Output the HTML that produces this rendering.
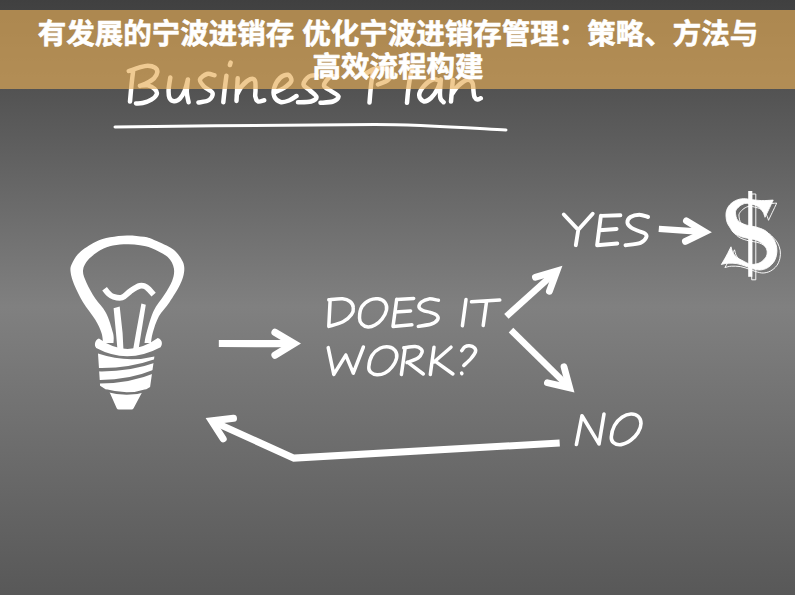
<!DOCTYPE html>
<html><head><meta charset="utf-8"><title>Business Plan</title>
<style>
html,body{margin:0;padding:0;background:#555;}
body{width:795px;height:595px;overflow:hidden;position:relative;font-family:"Liberation Sans",sans-serif;}
#bg{position:absolute;left:0;top:0;width:795px;height:595px;
background:linear-gradient(to bottom,#404040 0px,#808080 307px,#585858 595px);}
#art{position:absolute;left:0;top:0;}
#banner{position:absolute;left:0;top:10px;width:795px;height:78.7px;background:rgba(230,174,88,0.65);}
#ttl{position:absolute;left:0;top:0;}
#dollar{position:absolute;}
</style></head><body>
<div id="bg"></div>
<svg id="art" width="795" height="595" viewBox="0 0 795 595">
<path d="M133.2,70.5C132.9,72.9 132,79.8 131.5,85C131,90.2 130.2,98.8 130,101.5M128.8,71C130.5,70.4 135.8,68.5 138.9,67.6C142.1,66.7 145,65.7 147.7,65.7C150.4,65.7 153.4,66.5 155,67.6C156.6,68.7 157.5,70.5 157.3,72.3C157.1,74.1 155.9,76.4 154,78.3C152.1,80.2 148.3,82.2 146,83.5C143.7,84.8 141,85.4 140,85.8M140,85.8C141.3,85.7 145.3,84.9 147.7,85.4C150.1,85.9 153,87.4 154.5,88.8C156,90.2 157.3,92.2 156.8,94C156.3,95.8 153.8,98.2 151.4,99.7C149,101.2 145.2,102.4 142.6,103C140,103.6 137.1,103.3 136,103.4M170.3,77.6C170,79.7 168.7,86.6 168.6,90C168.5,93.4 168.6,96.1 169.5,98C170.4,99.9 172.2,101.1 174,101.2C175.8,101.3 178.2,100.4 180,98.5C181.8,96.6 183.7,93.2 185,90C186.3,86.8 187.4,81.2 187.9,79.5M187.9,79.5C187.7,81.6 186.7,88.2 186.8,92C186.9,95.8 188.3,100.5 188.6,102.2M214.5,75.2C213.2,75 209.4,73.3 207,74C204.6,74.7 200.5,77.4 200,79.5C199.5,81.6 201.9,84.2 204,86.5C206.1,88.8 211.7,90.8 212.5,93C213.3,95.2 211.3,98.4 209,100C206.7,101.6 200.2,102.1 198.5,102.5M230.6,62.6L229.9,65M226.4,75.8C226.1,78.2 225.1,85.6 224.6,90C224.1,94.4 223.5,100.2 223.3,102.2M237.7,78.3L236.5,100.9M236.8,95C237.7,93.5 239.8,88.6 242,86C244.2,83.4 248.1,80.1 250.3,79.2C252.5,78.3 254.1,79 255,80.8C255.9,82.6 255.4,87.4 255.5,90C255.6,92.6 254.9,94.6 255.3,96.5C255.7,98.4 256.5,100.9 258,101.5C259.5,102.1 263.2,100.5 264.2,100.3M275.5,92C276.9,91.3 281.4,89.8 284,88C286.6,86.2 290.6,83.2 291.3,81C292,78.8 289.9,75.3 288,74.8C286.1,74.3 282.3,75.8 280,78C277.7,80.2 275.1,84.8 274.2,88C273.3,91.2 273.4,94.7 274.5,97C275.6,99.3 278.1,101.4 280.5,102C282.9,102.6 286.3,101.5 289,100.5C291.7,99.5 295.2,96.8 296.5,96M316.5,75.3C315.2,75.5 311.2,75 309,76.5C306.8,78 303.3,82.2 303.5,84.5C303.7,86.8 307.8,88.4 310,90.5C312.2,92.6 316.3,95.2 316.5,97C316.7,98.8 314.1,100.6 311,101.5C307.9,102.4 300.2,102.2 298,102.3M337,76.5C335.8,76.6 332.2,75.5 330,77C327.8,78.5 323.8,83.2 324,85.5C324.2,87.8 328.6,89.2 331,91C333.4,92.8 338.2,94.8 338.5,96.5C338.8,98.2 336,100.5 333,101.5C330,102.5 322.6,102.6 320.5,102.8M373.5,70C373.1,72 372.1,76.6 371.4,82C370.7,87.4 369.8,99.1 369.5,102.5M366,73.5C367.5,72.7 371.7,69.5 375,68.8C378.3,68 383.3,68.1 386,69C388.7,69.9 390.7,72.2 391,74C391.3,75.8 390.2,78.2 388,80C385.8,81.8 379.7,83.8 378,84.5M413,66C412.5,68 410.8,73.7 410,78C409.2,82.3 408.5,87.9 408,92C407.5,96.1 407.2,101 407,102.8M440.5,81C439.2,80.8 435.8,78.7 433,79.5C430.2,80.3 426.3,83.4 424,86C421.7,88.6 419.3,92.5 419.2,95C419.1,97.5 421.5,100.8 423.5,101.3C425.5,101.8 428.6,100.2 431,98C433.4,95.8 436.4,91.1 438,88C439.6,84.9 440.3,80.9 440.8,79.5M440.8,79.5C440.7,81.6 440.1,88.8 440,92C439.9,95.2 439.9,96.8 440.5,98.5C441.1,100.2 443.1,101.6 443.6,102.2M452.8,80L451,101.5M451.5,95C452.6,93.5 455.3,88.5 458,86C460.7,83.5 465.1,80.3 467.5,79.8C469.9,79.3 471.5,81.1 472.5,83C473.5,84.9 473.2,88.7 473.5,91C473.8,93.3 473.8,95.6 474.5,97C475.2,98.4 476.4,99.3 477.5,99.5C478.6,99.7 480.2,98.4 480.8,98.2" fill="none" stroke="#fff" stroke-width="4.5" stroke-linecap="round" stroke-linejoin="round"/>
<path d="M115,127 C200,126 300,124.6 375,124.4 C420,124.4 470,128 506,130" fill="none" stroke="#fff" stroke-width="3" stroke-linecap="round"/>
<path d="M330.1,300.7L328.8,326.3M328.8,299.8C331.1,299.6 339.1,298.5 342.6,298.8C346.1,299.1 348.2,300.1 350,301.5C351.8,302.9 353.1,305.3 353.3,307.5C353.6,309.7 353.2,312.1 351.5,314.5C349.8,316.9 346.8,319.8 343,321.8C339.2,323.8 331.2,325.6 328.8,326.4M359.5,318C359.5,315.1 360.2,309.5 362,306.5C363.8,303.5 367.3,301.3 370,300C372.7,298.7 375.5,298.4 378,298.8C380.5,299.2 383.6,300.6 385,302.5C386.4,304.4 387,307.2 386.5,310C386,312.8 383.9,316.5 382,319C380.1,321.5 377.3,323.7 375,325C372.7,326.3 370.2,327.2 368,327C365.8,326.8 363.2,325.5 361.8,324C360.4,322.5 359.5,320.9 359.5,318ZM396.7,299.3C396.4,301.4 395.6,307.5 395,312C394.4,316.5 393.3,323.9 393,326.3M396.7,299.5L413.7,298.4M395.5,312L410.6,310.9M393,326.4L411.9,324.8M438.4,300.3C436.8,300.1 431.8,298.6 429,298.9C426.2,299.2 423.2,300.6 421.5,302C419.8,303.4 418.8,305.6 419,307C419.2,308.4 421.1,309.6 423,310.5C424.9,311.4 427.9,311.6 430.2,312.3C432.4,313.1 435.2,313.8 436.5,315C437.8,316.2 438.6,318 437.7,319.5C436.8,321 434.6,322.9 431.4,324C428.2,325.1 420.5,326 418.3,326.4M466,299.5L462.4,325.8M471.5,301.8L499.8,300M486.6,301.2L483.2,325.6" fill="none" stroke="#fff" stroke-width="3.5" stroke-linecap="round" stroke-linejoin="round"/>
<path d="M328.2,347.6L333.8,374.4M333.8,374.4L345.8,355.1M345.8,355.1L353.3,373.2M353.3,373.2L363.4,347M368.8,367C369,364.2 370.1,358.6 372,355.5C373.9,352.4 377.2,349.7 380,348.3C382.8,346.9 386.4,346.5 389,346.9C391.6,347.3 394,348.9 395.3,350.8C396.6,352.7 397.2,355.3 396.6,358C396.1,360.7 393.9,364.5 392,367C390.1,369.5 387.5,371.7 385,373C382.5,374.3 379.4,374.9 377,374.8C374.6,374.7 372.2,373.6 370.8,372.3C369.4,371 368.6,369.8 368.8,367ZM405.1,348.2L401.4,374.4M403.8,347.8C405.7,347.6 412.2,346.3 415.1,346.5C418,346.7 419.9,348 421,349C422.1,350 422.5,351 422,352.5C421.5,354 420.5,356.3 418,358C415.5,359.7 408.8,361.8 407,362.5M407.6,362.2L423.3,374M434,347.2L430.3,374.4M451,347.2L434,362M435.3,361.4L452.9,374M461.7,350.7C462.2,350.1 463.7,347.6 465,346.8C466.3,346 467.9,345.6 469.5,345.8C471.1,346 473.3,346.8 474.3,347.8C475.3,348.8 476.1,349.8 475.5,351.6C474.9,353.4 472.9,356.2 471,358.5C469.1,360.8 465,364.3 463.8,365.5M461.6,373L461.9,373.6" fill="none" stroke="#fff" stroke-width="3.5" stroke-linecap="round" stroke-linejoin="round"/>
<path d="M563.8,214.5L578.3,229.8M592.7,213.8L578.3,229.8M578.3,229.8L575.8,245.2M600.9,215.7L597.1,245.2M600.9,215.9L620.4,215.2M599.7,230.2L616.6,229M597.1,245.2L617.3,243.5M648.1,217C646.6,216.6 642.2,214.7 639.3,214.7C636.4,214.7 632.5,215.7 630.5,217C628.5,218.3 627.3,220.8 627.4,222.6C627.5,224.3 629.2,226.1 631,227.5C632.8,228.9 635.7,229.8 638,230.8C640.3,231.8 643.6,232.4 645,233.5C646.4,234.6 647,235.9 646.2,237.5C645.5,239.1 644,241.5 640.5,242.8C637,244.1 628,244.8 625.5,245.2" fill="none" stroke="#fff" stroke-width="3.9" stroke-linecap="round" stroke-linejoin="round"/>
<path d="M576.4,444.5L582,415.8M582,415.8L599,443.9M599,443.9L604,414M611.3,437C611.5,434.1 612.7,428.8 614.5,425.5C616.3,422.2 619.2,419.1 622,417.2C624.8,415.3 628.3,414.1 631,414C633.7,413.9 636.6,414.9 638.3,416.5C640,418.1 641,420.8 641,423.5C641,426.2 639.7,429.8 638,432.5C636.3,435.2 633.8,438 631,440C628.2,442 623.9,444.2 621,444.6C618.1,445 615.1,443.9 613.5,442.6C611.9,441.3 611.1,439.9 611.3,437Z" fill="none" stroke="#fff" stroke-width="3.6" stroke-linecap="round" stroke-linejoin="round"/>
<path d="M218.8,343.5L294,343.6" fill="none" stroke="#fff" stroke-width="7.2" stroke-linecap="butt" stroke-linejoin="miter"/>
<path d="M275,332.3L294,343.6L275,355.1" fill="none" stroke="#fff" stroke-width="7.2" stroke-linecap="round" stroke-linejoin="miter" stroke-miterlimit="10"/>
<path d="M658.8,228.9L704.8,232" fill="none" stroke="#fff" stroke-width="6.4" stroke-linecap="butt" stroke-linejoin="miter"/>
<path d="M686.4,220.8L704.8,232L685.4,241.4" fill="none" stroke="#fff" stroke-width="6.8" stroke-linecap="round" stroke-linejoin="miter" stroke-miterlimit="10"/>
<path d="M506.4,316.4L556.9,270.9" fill="none" stroke="#fff" stroke-width="6.5" stroke-linecap="butt" stroke-linejoin="miter"/>
<path d="M535.4,277.3L556.9,270.9L549.4,291.2" fill="none" stroke="#fff" stroke-width="6.8" stroke-linecap="round" stroke-linejoin="miter" stroke-miterlimit="10"/>
<path d="M511,330.1L569.7,387.8" fill="none" stroke="#fff" stroke-width="6.5" stroke-linecap="butt" stroke-linejoin="miter"/>
<path d="M564,366.8L569.7,387.8L547.4,382.7" fill="none" stroke="#fff" stroke-width="6.8" stroke-linecap="round" stroke-linejoin="miter" stroke-miterlimit="10"/>
<path d="M559.7,443L293.9,458.1L211.6,420.9" fill="none" stroke="#fff" stroke-width="7" stroke-linecap="butt" stroke-linejoin="miter"/>
<path d="M233.5,418.3L211.6,420.9L223.2,438.8" fill="none" stroke="#fff" stroke-width="7" stroke-linecap="round" stroke-linejoin="miter" stroke-miterlimit="10"/>
<g transform="translate(3.5,3)" fill="none" stroke="#fff" stroke-width="0.95"><path d="M773.2,200.1C771.2,200.2 764.9,200.7 761.4,200.6C757.9,200.5 755.3,200 752.3,199.7C749.3,199.4 746,198.5 743.2,198.7C740.4,198.8 737.8,199.5 735.5,200.6C733.2,201.7 731.1,203.3 729.6,205C728.1,206.7 727.2,208.7 726.6,210.5C726,212.3 725.9,214.1 726,216C726.1,217.9 726.4,220.2 727,222C727.6,223.8 728.3,225 729.6,226.9C730.9,228.8 732.3,231.9 734.6,233.6C736.9,235.3 739.6,236.2 743.2,237.3C746.8,238.4 752.7,238.8 756,240C759.3,241.2 761.4,242.8 763.2,244.5C765,246.2 766.4,248 766.9,250C767.4,252 767.3,254.3 766.4,256.3C765.5,258.3 763.1,260.5 761.4,261.8C759.7,263.1 757.9,263.6 756,264C754.1,264.4 752.1,264.7 750,264.2C747.9,263.7 745.4,262.1 743.2,261C741,259.9 738.7,258.8 737,257.5C735.3,256.2 734,254.8 733,253C732,251.2 731.3,247.8 731,246.8C730.2,248.3 727.9,253.1 726.3,256C724.7,258.9 722.2,263.1 721.4,264.5C722.5,264.3 725.2,263.3 727.8,263.2C730.4,263.1 733.9,263.1 736.9,263.6C739.9,264.1 743.4,265.5 746,266.3C748.6,267.1 750,268 752.3,268.6C754.6,269.2 757.2,270.1 759.6,270C762,269.9 764.6,269.3 766.9,268.1C769.2,266.9 771.6,264.8 773.2,262.7C774.8,260.6 775.8,258 776.4,255.4C777,252.8 777.1,249.9 776.7,247.3C776.3,244.7 775.1,242 774.1,240C773.1,238 772,237 770.5,235.4C769,233.8 767.4,231.9 765,230.5C762.6,229.1 759.2,227.9 756,227C752.8,226.1 749,226.1 746,225C743,223.9 739.5,222.5 737.8,220.5C736,218.5 735.7,215 735.5,213.2C735.3,211.4 735.6,210.9 736.4,209.6C737.2,208.3 738.9,206.6 740.5,205.5C742.1,204.4 744,203.5 746,203.3C748,203.1 750.6,204 752.3,204.4C754,204.8 754.8,204.9 756,205.5C757.2,206.1 758.4,206.7 759.6,207.8C760.8,208.9 762.3,210.7 763.2,212.3C764.1,213.9 764.7,216.5 765,217.3C765.6,216 767.3,212.5 768.7,209.6C770.1,206.7 772.5,201.7 773.2,200.1Z"/><path d="M748.2,191H752.3V276.8H748.2Z"/></g>
<path d="M773.2,200.1C771.2,200.2 764.9,200.7 761.4,200.6C757.9,200.5 755.3,200 752.3,199.7C749.3,199.4 746,198.5 743.2,198.7C740.4,198.8 737.8,199.5 735.5,200.6C733.2,201.7 731.1,203.3 729.6,205C728.1,206.7 727.2,208.7 726.6,210.5C726,212.3 725.9,214.1 726,216C726.1,217.9 726.4,220.2 727,222C727.6,223.8 728.3,225 729.6,226.9C730.9,228.8 732.3,231.9 734.6,233.6C736.9,235.3 739.6,236.2 743.2,237.3C746.8,238.4 752.7,238.8 756,240C759.3,241.2 761.4,242.8 763.2,244.5C765,246.2 766.4,248 766.9,250C767.4,252 767.3,254.3 766.4,256.3C765.5,258.3 763.1,260.5 761.4,261.8C759.7,263.1 757.9,263.6 756,264C754.1,264.4 752.1,264.7 750,264.2C747.9,263.7 745.4,262.1 743.2,261C741,259.9 738.7,258.8 737,257.5C735.3,256.2 734,254.8 733,253C732,251.2 731.3,247.8 731,246.8C730.2,248.3 727.9,253.1 726.3,256C724.7,258.9 722.2,263.1 721.4,264.5C722.5,264.3 725.2,263.3 727.8,263.2C730.4,263.1 733.9,263.1 736.9,263.6C739.9,264.1 743.4,265.5 746,266.3C748.6,267.1 750,268 752.3,268.6C754.6,269.2 757.2,270.1 759.6,270C762,269.9 764.6,269.3 766.9,268.1C769.2,266.9 771.6,264.8 773.2,262.7C774.8,260.6 775.8,258 776.4,255.4C777,252.8 777.1,249.9 776.7,247.3C776.3,244.7 775.1,242 774.1,240C773.1,238 772,237 770.5,235.4C769,233.8 767.4,231.9 765,230.5C762.6,229.1 759.2,227.9 756,227C752.8,226.1 749,226.1 746,225C743,223.9 739.5,222.5 737.8,220.5C736,218.5 735.7,215 735.5,213.2C735.3,211.4 735.6,210.9 736.4,209.6C737.2,208.3 738.9,206.6 740.5,205.5C742.1,204.4 744,203.5 746,203.3C748,203.1 750.6,204 752.3,204.4C754,204.8 754.8,204.9 756,205.5C757.2,206.1 758.4,206.7 759.6,207.8C760.8,208.9 762.3,210.7 763.2,212.3C764.1,213.9 764.7,216.5 765,217.3C765.6,216 767.3,212.5 768.7,209.6C770.1,206.7 772.5,201.7 773.2,200.1Z" fill="#fff" stroke="#fff" stroke-width="0.9" stroke-linejoin="miter"/><path d="M748.2,191H752.3V276.8H748.2Z" fill="#fff"/>
<path d="M103,343C102.8,341.3 102.8,336.9 101.5,333C100.2,329.1 98.4,324.9 95.3,319.8C92.2,314.7 86.5,308.1 83,302.2C79.5,296.3 76.2,289.5 74.1,284.5C72,279.5 71,275.5 70.6,272.1C70.2,268.7 70.3,267.2 71.8,264C73.3,260.8 75.5,256.3 79.4,252.7C83.3,249 90.2,244.7 95.3,242.1C100.4,239.5 104.7,238.4 110,237.3C115.3,236.2 121.4,235.5 127.1,235.4C132.8,235.3 139.3,236 144,236.8C148.7,237.6 150.5,238.3 155.3,240.4C160.1,242.5 168.4,245.7 173,249.2C177.6,252.7 180.8,257.7 182.7,261.5C184.5,265.3 184.5,268.3 184.1,272.1C183.7,275.9 182.5,279.5 180.1,284.5C177.7,289.5 173,296.9 169.5,302.2C166,307.5 161.7,311.2 158.9,316.3C156.1,321.4 154,328.6 152.7,333C151.4,337.4 151.3,341.3 151,343L144.5,343C144.8,341.3 145,338.3 146.5,333C148,327.7 150.7,317.3 153.6,311C156.5,304.7 161.1,300.1 164.2,295.1C167.3,290.1 170.5,285.4 172.1,281C173.7,276.6 174.6,272.6 173.9,268.6C173.2,264.6 171.4,260.5 167.7,257.1C164,253.7 156.4,250.3 151.8,248.3C147.2,246.3 144.1,245.9 140,245.2C135.9,244.5 131.6,244.1 127.1,244.2C122.6,244.3 117.4,244.6 113,245.6C108.6,246.6 104.7,247.7 100.6,250.1C96.5,252.5 91.1,256.4 88.2,259.8C85.3,263.2 83.3,266.6 83,270.4C82.7,274.2 84.5,278 86.5,282.7C88.5,287.4 92.1,293.6 95.3,298.6C98.5,303.6 103,307 105.9,312.7C108.9,318.4 111.7,327.9 113,333C114.3,338.1 113.4,341.3 113.5,343Z" fill="#fff" fill-rule="evenodd"/>
<path d="M104.6,288.8C105.2,289.6 107,292.2 108.5,293.5C110,294.8 111.2,296.1 113.5,296.8C115.8,297.5 119.2,298.5 122,297.6C124.8,296.7 127.4,293.1 130.3,291.2C133.2,289.2 136.9,286.5 139.7,285.9C142.4,285.3 144.5,285.9 146.8,287.4C149.1,288.8 152.5,293.4 153.6,294.6" fill="none" stroke="#fff" stroke-width="5.8" stroke-linecap="butt" stroke-linejoin="round"/>
<path d="M113.6,308.2L119.7,306.4L122.6,333L123.4,349L117.4,349L116,333Z M141.4,303.4L145.8,304.7L141.2,333L138.6,349L133.2,349L136,333Z" fill="#fff"/>
<path d="M98.9,338.6Q127.65,359.6 157.8,338Q161.6,339.4 161.9,342.9Q162,345.6 160.6,347.2Q127.6,364.8 96.2,348Q94.6,346.6 94.9,344Q95.4,339.8 98.9,338.6Z" fill="#fff"/>
<mask id="scr" maskUnits="userSpaceOnUse" x="90" y="345" width="75" height="70"><rect x="90" y="345" width="75" height="70" fill="#fff"/>
<g fill="none" stroke="#000" stroke-linecap="butt">
<path d="M96,369.6Q128,370.6 156,360.6" stroke-width="3.4"/>
<path d="M97,381.8Q128,382.4 155,371.2" stroke-width="3.5"/>
<path d="M106,390.6Q128,396.6 146,390.4" stroke-width="2.6"/>
</g></mask>
<path mask="url(#scr)" d="M98,353.6Q127,363.2 154.4,356.4L150.1,387.1L142.5,391.6L133.6,408.2Q133,409.4 131.6,409.4L118.7,409.4Q117.3,409.4 116.7,408.2L109.4,391.8L100.1,385.7Z" fill="#fff"/>
</svg>
<div id="banner"></div>
<svg id="ttl" width="795" height="595" viewBox="0 0 795 595">
<g fill="#fff" stroke="#fff" stroke-width="0.6" stroke-linejoin="round" font-family='"Liberation Sans", "Noto Sans CJK SC", sans-serif' font-weight="bold" font-size="28.5" text-anchor="middle">
<text x="398" y="44.05" xml:space="preserve">有发展的宁波进销存 优化宁波进销存管理：策略、方法与</text>
<text x="398" y="76.8">高效流程构建</text>
</g>
</svg>
</body></html>
